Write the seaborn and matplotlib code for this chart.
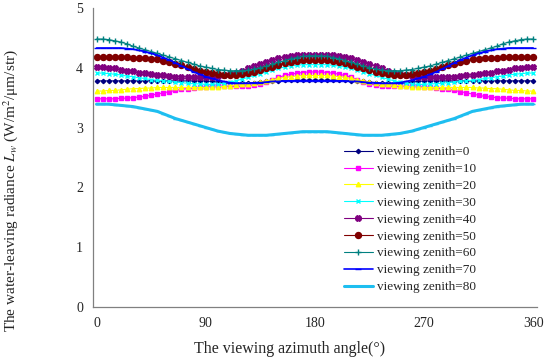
import numpy as np
import pandas as pd
import matplotlib
matplotlib.use("Agg")
import matplotlib.pyplot as plt
import seaborn as sns

# viewing azimuth angle, every 5 degrees
azimuth = np.arange(0, 361, 5)

# water-leaving radiance for each viewing zenith
zen0 = [3.78, 3.78, 3.78, 3.78, 3.78, 3.78, 3.78, 3.78, 3.78, 3.78,
        3.78, 3.78, 3.78, 3.78, 3.78, 3.78, 3.78, 3.78, 3.78, 3.77,
        3.76, 3.75, 3.74, 3.74, 3.74, 3.74, 3.75, 3.76, 3.77, 3.78,
        3.78, 3.79, 3.79, 3.79, 3.79, 3.79, 3.79,
        3.79, 3.79, 3.79, 3.79, 3.79, 3.78,
        3.78, 3.77, 3.76, 3.75, 3.74, 3.74, 3.74, 3.74, 3.75, 3.76,
        3.77, 3.78, 3.78, 3.78, 3.78, 3.78, 3.78, 3.78, 3.78, 3.78,
        3.78, 3.78, 3.78, 3.78, 3.78, 3.78, 3.78, 3.78, 3.78, 3.78]
zen10 = [3.48, 3.48, 3.48, 3.48, 3.49, 3.49, 3.50, 3.51, 3.52, 3.54,
         3.56, 3.58, 3.60, 3.62, 3.64, 3.65, 3.66, 3.67, 3.68, 3.69,
         3.69, 3.69, 3.69, 3.69, 3.69, 3.70, 3.71, 3.73, 3.76, 3.80,
         3.84, 3.87, 3.89, 3.91, 3.92, 3.93, 3.93,
         3.93, 3.92, 3.91, 3.89, 3.87, 3.84,
         3.80, 3.76, 3.73, 3.71, 3.70, 3.69, 3.69, 3.69, 3.69, 3.69,
         3.69, 3.68, 3.67, 3.66, 3.65, 3.64, 3.62, 3.60, 3.58, 3.56,
         3.54, 3.52, 3.51, 3.50, 3.49, 3.49, 3.48, 3.48, 3.48, 3.48]
zen20 = [3.61, 3.61, 3.62, 3.62, 3.63, 3.64, 3.65, 3.65, 3.66, 3.66,
         3.67, 3.67, 3.67, 3.67, 3.67, 3.67, 3.67, 3.67, 3.67, 3.68,
         3.68, 3.69, 3.70, 3.71, 3.72, 3.73, 3.74, 3.76, 3.78, 3.80,
         3.82, 3.84, 3.85, 3.86, 3.87, 3.87, 3.87,
         3.87, 3.87, 3.86, 3.85, 3.84, 3.82,
         3.80, 3.78, 3.76, 3.74, 3.73, 3.72, 3.71, 3.70, 3.69, 3.68,
         3.68, 3.67, 3.67, 3.67, 3.67, 3.67, 3.67, 3.67, 3.67, 3.67,
         3.66, 3.66, 3.65, 3.65, 3.64, 3.63, 3.62, 3.62, 3.61, 3.61]
zen30 = [3.91, 3.91, 3.90, 3.89, 3.88, 3.86, 3.85, 3.83, 3.82, 3.80,
         3.79, 3.78, 3.77, 3.76, 3.75, 3.74, 3.73, 3.73, 3.72, 3.72,
         3.73, 3.74, 3.76, 3.78, 3.81, 3.84, 3.87, 3.90, 3.93, 3.96,
         3.99, 4.01, 4.03, 4.04, 4.05, 4.05, 4.05,
         4.05, 4.05, 4.04, 4.03, 4.01, 3.99,
         3.96, 3.93, 3.90, 3.87, 3.84, 3.81, 3.78, 3.76, 3.74, 3.73,
         3.72, 3.72, 3.73, 3.73, 3.74, 3.75, 3.76, 3.77, 3.78, 3.79,
         3.80, 3.82, 3.83, 3.85, 3.86, 3.88, 3.89, 3.90, 3.91, 3.91]
zen40 = [4.01, 4.01, 4.00, 3.99, 3.97, 3.95, 3.94, 3.92, 3.91, 3.89,
         3.88, 3.87, 3.86, 3.85, 3.85, 3.84, 3.84, 3.84, 3.84, 3.85,
         3.86, 3.88, 3.90, 3.92, 3.95, 3.99, 4.03, 4.07, 4.10, 4.13,
         4.16, 4.18, 4.20, 4.21, 4.22, 4.22, 4.22,
         4.22, 4.22, 4.21, 4.20, 4.18, 4.16,
         4.13, 4.10, 4.07, 4.03, 3.99, 3.95, 3.92, 3.90, 3.88, 3.86,
         3.85, 3.84, 3.84, 3.84, 3.84, 3.85, 3.85, 3.86, 3.87, 3.88,
         3.89, 3.91, 3.92, 3.94, 3.95, 3.97, 3.99, 4.00, 4.01, 4.01]
zen50 = [4.18, 4.18, 4.18, 4.18, 4.18, 4.18, 4.17, 4.17, 4.16, 4.15,
         4.14, 4.12, 4.10, 4.07, 4.04, 4.01, 3.98, 3.95, 3.93, 3.91,
         3.89, 3.88, 3.88, 3.88, 3.89, 3.91, 3.93, 3.96, 3.99, 4.02,
         4.05, 4.08, 4.10, 4.12, 4.13, 4.13, 4.13,
         4.13, 4.13, 4.12, 4.10, 4.08, 4.05,
         4.02, 3.99, 3.96, 3.93, 3.91, 3.89, 3.88, 3.88, 3.88, 3.89,
         3.91, 3.93, 3.95, 3.98, 4.01, 4.04, 4.07, 4.10, 4.12, 4.14,
         4.15, 4.16, 4.17, 4.17, 4.18, 4.18, 4.18, 4.18, 4.18, 4.18]
zen60 = [4.48, 4.48, 4.47, 4.45, 4.43, 4.40, 4.36, 4.33, 4.30, 4.27,
         4.24, 4.21, 4.18, 4.15, 4.12, 4.09, 4.06, 4.03, 4.01, 3.99,
         3.97, 3.96, 3.95, 3.95, 3.95, 3.96, 3.98, 4.00, 4.03, 4.06,
         4.09, 4.12, 4.15, 4.17, 4.19, 4.20, 4.20,
         4.20, 4.19, 4.17, 4.15, 4.12, 4.09,
         4.06, 4.03, 4.00, 3.98, 3.96, 3.95, 3.95, 3.95, 3.96, 3.97,
         3.99, 4.01, 4.03, 4.06, 4.09, 4.12, 4.15, 4.18, 4.21, 4.24,
         4.27, 4.30, 4.33, 4.36, 4.40, 4.43, 4.45, 4.47, 4.48, 4.48]
zen70 = [4.33, 4.33, 4.33, 4.33, 4.33, 4.32, 4.31, 4.29, 4.27, 4.24,
         4.21, 4.17, 4.13, 4.08, 4.03, 3.98, 3.93, 3.89, 3.85, 3.82,
         3.79, 3.77, 3.75, 3.74, 3.74, 3.74, 3.75, 3.75, 3.76, 3.77,
         3.77, 3.78, 3.78, 3.78, 3.78, 3.78, 3.78,
         3.78, 3.78, 3.78, 3.78, 3.78, 3.77,
         3.77, 3.76, 3.75, 3.75, 3.74, 3.74, 3.74, 3.75, 3.77, 3.79,
         3.82, 3.85, 3.89, 3.93, 3.98, 4.03, 4.08, 4.13, 4.17, 4.21,
         4.24, 4.27, 4.29, 4.31, 4.32, 4.33, 4.33, 4.33, 4.33, 4.33]
zen80 = [3.39, 3.39, 3.39, 3.38, 3.37, 3.36, 3.35, 3.33, 3.31, 3.29,
         3.27, 3.23, 3.19, 3.15, 3.12, 3.09, 3.06, 3.03, 3.00, 2.97,
         2.94, 2.92, 2.90, 2.89, 2.88, 2.87, 2.87, 2.87, 2.87, 2.88,
         2.89, 2.90, 2.91, 2.92, 2.93, 2.93, 2.93,
         2.93, 2.93, 2.92, 2.91, 2.90, 2.89,
         2.88, 2.87, 2.87, 2.87, 2.87, 2.88, 2.89, 2.90, 2.92, 2.94,
         2.97, 3.00, 3.03, 3.06, 3.09, 3.12, 3.15, 3.19, 3.23, 3.27,
         3.29, 3.31, 3.33, 3.35, 3.36, 3.37, 3.38, 3.39, 3.39, 3.39]

series = [zen0, zen10, zen20, zen30, zen40, zen50, zen60, zen70, zen80]
labels = ["viewing zenith=%d" % z for z in range(0, 81, 10)]

# style for each curve: color, marker, marker size, line width
styles = [
    ("#000080", "D", 2.2, 0.8),
    ("#FF00FF", "s", 3.0, 0.8),
    ("#FFFF00", "^", 3.2, 0.8),
    ("#00FFFF", "x", 3.5, 0.8),
    ("#800080", "X", 4.0, 0.8),
    ("#800000", "o", 4.3, 0.8),
    ("#008080", "+", 4.5, 0.8),
    ("#0000FF", "_", 4.5, 1.2),
    ("#1EBEF0", "_", 3.0, 2.2),
]

sns.set_style("white")
plt.rcParams["font.family"] = ["Liberation Serif", "DejaVu Serif"]
plt.rcParams["mathtext.fontset"] = "stix"

fig, ax = plt.subplots(figsize=(5.5, 3.61), dpi=100)
fig.subplots_adjust(left=0.169, right=0.976, bottom=0.15, top=0.978)

for vals, lab, (col, mk, ms, lw) in zip(series, labels, styles):
    sns.lineplot(x=azimuth, y=vals, ax=ax, color=col, marker=mk, markersize=ms,
                 linewidth=lw, markeredgecolor=col, markeredgewidth=1.0,
                 label=lab)

ax.set_xlim(-3, 363)
ax.set_ylim(0, 5)
ax.set_xticks([0, 90, 180, 270, 360])
ax.set_xticks(np.arange(0, 361, 15), minor=True)
ax.set_yticks([0, 1, 2, 3, 4, 5])
ax.tick_params(axis="both", direction="in", length=4, color="#808080",
               labelsize=10, pad=7)
ax.tick_params(axis="x", which="minor", direction="in", length=4, color="#808080")
for s in ["top", "right"]:
    ax.spines[s].set_visible(False)
for s in ["left", "bottom"]:
    ax.spines[s].set_color("#808080")
    ax.spines[s].set_linewidth(0.9)

ax.set_xlabel("The viewing azimuth angle(°)", fontsize=11.5)
ax.set_ylabel("The water-leaving radiance $L_w$ (W/m$^2$/\u03bcm/str)",
              fontsize=11)
ax.xaxis.set_label_coords(0.444, -0.115)
ax.yaxis.set_label_coords(-0.164, 0.39)

ax.legend(loc="upper left", bbox_to_anchor=(0.55, 0.56), frameon=False,
          fontsize=9.5, handlelength=2.2, handletextpad=0.3, labelspacing=0.35,
          borderpad=0)

plt.savefig("out.png", dpi=100)
